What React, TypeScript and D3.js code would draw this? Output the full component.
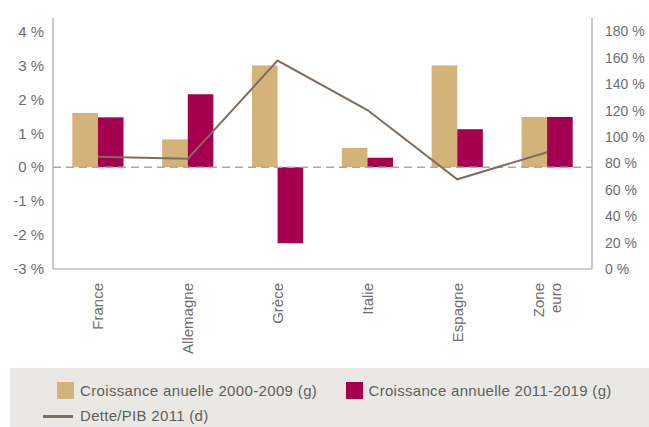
import React from "react";
import * as d3 from "d3";

const categories = ["France", "Allemagne", "Grèce", "Italie", "Espagne", "Zone euro"];
const growth2000 = [1.6, 0.82, 3.0, 0.57, 3.0, 1.48];
const growth2011 = [1.47, 2.15, -2.24, 0.28, 1.12, 1.48];
const debtRatio = [85, 83.5, 158, 120.5, 68, 88.5];
const leftTicks = [-3, -2, -1, 0, 1, 2, 3, 4];
const rightTicks = [0, 20, 40, 60, 80, 100, 120, 140, 160, 180];
const seriesNames = ["Croissance anuelle 2000-2009 (g)", "Croissance annuelle 2011-2019 (g)", "Dette/PIB 2011 (d)"];

const W = 649, H = 427;
const left = 53, right = 592, top = 31.5, bottom = 269;
const TAN = "#d4b37b", CRIMSON = "#a50050", LINE = "#7f6d5f", AXIS = "#a3a3a3", TEXT = "#6e6e6e";
const FONT = "'Liberation Sans', Arial, Helvetica, sans-serif";

export default function App() {
  const x = d3.scaleBand<string>().domain(categories).range([left, right]).paddingInner(0.43).paddingOuter(0.215);
  const x1 = d3.scaleBand<string>().domain(["a", "b"]).range([0, x.bandwidth()]);
  const yL = d3.scaleLinear().domain([-3, 4]).range([bottom, top]);
  const yR = d3.scaleLinear().domain([0, 180]).range([bottom, top]);
  const cx = (c: string) => (x(c) as number) + x.bandwidth() / 2;
  const line = d3.line<number>().x((_, i) => cx(categories[i])).y((d) => yR(d));

  const bar = (vals: number[], key: string, color: string) =>
    vals.map((v, i) => (
      <rect key={key + i} x={(x(categories[i]) as number) + (x1(key) as number)} width={x1.bandwidth()}
        y={yL(Math.max(0, v))} height={Math.abs(yL(v) - yL(0))} fill={color} />
    ));

  return (
    <svg width={W} height={H} style={{ position: "absolute", left: 0, top: 0, fontFamily: FONT }}>
      <rect width={W} height={H} fill="#fff" />
      {bar(growth2000, "a", TAN)}
      {bar(growth2011, "b", CRIMSON)}
      <line x1={left} x2={right} y1={yL(0)} y2={yL(0)} stroke="#a8a8a8" strokeWidth={1.5} strokeDasharray="8,5" />
      <path d={line(debtRatio) || ""} fill="none" stroke={LINE} strokeWidth={2} />
      {/* axes */}
      <line x1={left} x2={left} y1={18} y2={bottom} stroke={AXIS} strokeWidth={1.2} />
      <line x1={right} x2={right} y1={18} y2={bottom} stroke={AXIS} strokeWidth={1.2} />
      <line x1={left} x2={right} y1={bottom} y2={bottom} stroke={AXIS} strokeWidth={1.2} />
      {leftTicks.map((t) => (
        <text key={"l" + t} x={44} y={yL(t)} dy="0.35em" textAnchor="end" fontSize={15} fill={TEXT}>
          {t + " %"}
        </text>
      ))}
      {rightTicks.map((t) => (
        <text key={"r" + t} x={605} y={yR(t)} dy="0.35em" textAnchor="start" fontSize={14} fill={TEXT}>
          {t + " %"}
        </text>
      ))}
      {categories.map((c) => {
        const parts = c === "Zone euro" ? ["Zone", "euro"] : [c];
        const cxx = cx(c);
        return parts.map((p, j) => {
          const xx = cxx + (j - (parts.length - 1) / 2) * 17;
          return (
            <text key={c + j} transform={`translate(${xx},283) rotate(-90)`} dy="0.35em" textAnchor="end" fontSize={15} fill={TEXT}>
              {p}
            </text>
          );
        });
      })}
      {/* legend */}
      <rect x={10} y={368} width={W - 10} height={H - 368} fill="#eae8e4" />
      <rect x={57} y={382} width={17} height={17} fill={TAN} />
      <text x={80} y={396} fontSize={15} letterSpacing={0.35} fill="#5e5e5e">{seriesNames[0]}</text>
      <rect x={346} y={382} width={17} height={17} fill={CRIMSON} />
      <text x={368.5} y={396} fontSize={15} letterSpacing={0.3} fill="#5e5e5e">{seriesNames[1]}</text>
      <line x1={43} x2={73} y1={416.5} y2={416.5} stroke={LINE} strokeWidth={3} />
      <text x={80} y={421} fontSize={15} letterSpacing={0.3} fill="#5e5e5e">{seriesNames[2]}</text>
    </svg>
  );
}
